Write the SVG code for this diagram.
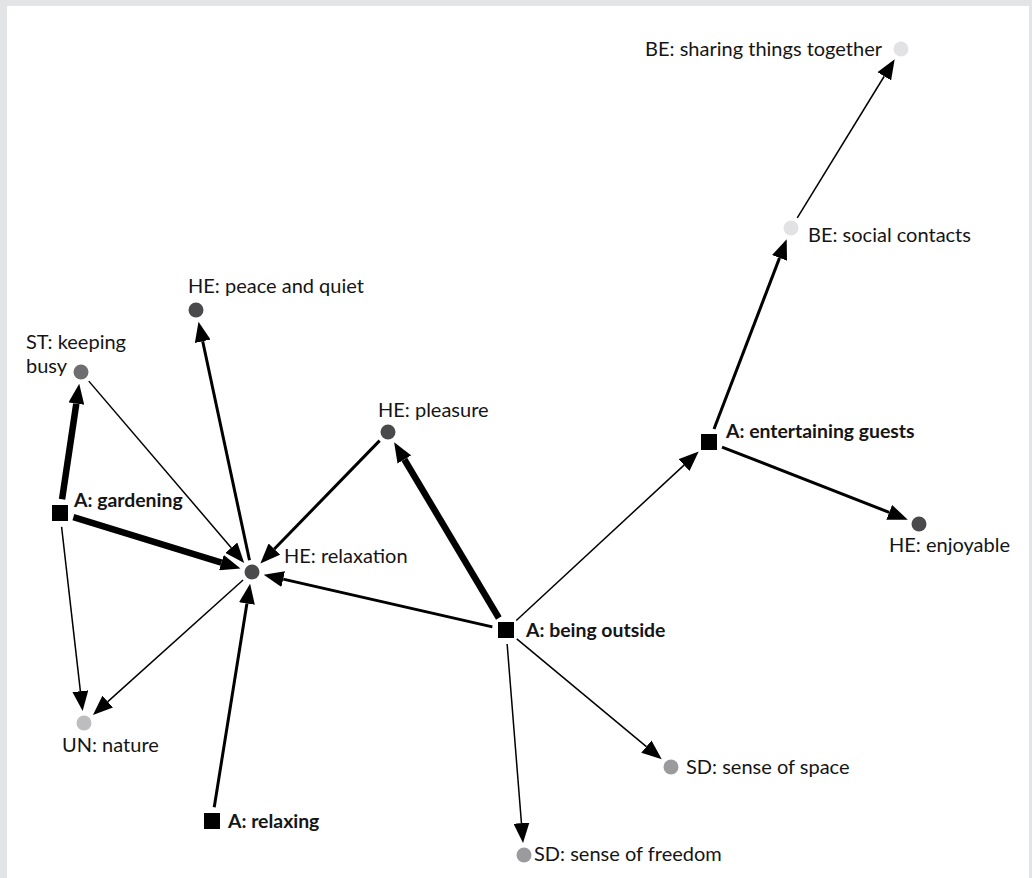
<svg xmlns="http://www.w3.org/2000/svg" width="1032" height="878" viewBox="0 0 1032 878">
  <defs>
    <style>
      .lbl { font-family: Lato, "Open Sans", "Liberation Sans", sans-serif; font-size: 20px; fill: #151515; }
      .act { font-weight: bold; font-size: 19.4px; }
      .edge { fill: none; stroke: #000; stroke-linecap: butt; marker-end: url(#head); }
      .w1 { stroke-width: 1.5; }
      .w3 { stroke-width: 3; }
      .w6 { stroke-width: 6.5; }
      .sq { fill: #000; }
      .dark { fill: #4a4a4c; }
      .mid { fill: #6e6e70; }
      .grey { fill: #9b9b9d; }
      .light { fill: #bdbdbf; }
      .pale { fill: #e2e2e4; }
    </style>
    <marker id="head" markerUnits="userSpaceOnUse" viewBox="0 0 20 16" markerWidth="20" markerHeight="16" refX="0" refY="8" orient="auto">
      <path d="M0,0 L20,8 L0,16 z" fill="#000"/>
    </marker>
  </defs>

  <!-- page frame -->
  <rect x="0" y="0" width="1032" height="878" fill="#e3e4e6"/>
  <rect x="7" y="6" width="1022" height="872" fill="#fff"/>

  <!-- connectors: each path ends at the base of its arrowhead -->
  <g id="connectors">
    <path class="edge w6" d="M62.06,499.15 L76.29,403.65"/>
    <path class="edge w6" d="M73.38,517.11 L221.41,562.60"/>
    <path class="edge w1" d="M61.59,526.91 L80.37,691.21"/>
    <path class="edge w1" d="M88.80,381.12 L231.21,547.68"/>
    <path class="edge w3" d="M249.49,560.27 L202.69,341.29"/>
    <path class="edge w3" d="M379.64,440.61 L274.30,549.05"/>
    <path class="edge w6" d="M498.83,617.97 L404.38,459.49"/>
    <path class="edge w3" d="M492.35,626.88 L283.20,579.12"/>
    <path class="edge w1" d="M243.08,580.02 L107.80,701.61"/>
    <path class="edge w3" d="M214.22,807.18 L246.92,603.60"/>
    <path class="edge w1" d="M516.27,620.49 L684.05,465.10"/>
    <path class="edge w3" d="M714.01,428.93 L779.55,257.88"/>
    <path class="edge w1" d="M797.28,217.78 L884.24,76.26"/>
    <path class="edge w3" d="M722.04,447.09 L889.19,512.36"/>
    <path class="edge w1" d="M516.77,638.94 L646.38,746.56"/>
    <path class="edge w1" d="M507.12,643.96 L521.45,823.10"/>
  </g>

  <!-- nodes -->
  <g id="be-sharing">
    <circle class="pale" cx="901" cy="49" r="7.5"/>
    <text class="lbl" x="882" y="56" text-anchor="end">BE: sharing things together</text>
  </g>
  <g id="be-social">
    <circle class="pale" cx="791" cy="228" r="7.5"/>
    <text class="lbl" x="808" y="242">BE: social contacts</text>
  </g>
  <g id="he-peace">
    <circle class="dark" cx="196" cy="310" r="7.5"/>
    <text class="lbl" x="188" y="293">HE: peace and quiet</text>
  </g>
  <g id="st-busy">
    <circle class="mid" cx="81" cy="372" r="7.5"/>
    <text class="lbl" x="26" y="349">ST: keeping<tspan x="26" y="373">busy</tspan></text>
  </g>
  <g id="he-pleasure">
    <circle class="dark" cx="388" cy="432" r="7.5"/>
    <text class="lbl" x="378" y="417">HE: pleasure</text>
  </g>
  <g id="a-entertaining">
    <rect class="sq" x="701" y="434" width="16" height="16"/>
    <text class="lbl act" x="726" y="438">A: entertaining guests</text>
  </g>
  <g id="a-gardening">
    <rect class="sq" x="52" y="505" width="16" height="16"/>
    <text class="lbl act" x="74" y="507">A: gardening</text>
  </g>
  <g id="he-enjoyable">
    <circle class="dark" cx="919" cy="524" r="7.5"/>
    <text class="lbl" x="889" y="552">HE: enjoyable</text>
  </g>
  <g id="he-relaxation">
    <circle class="dark" cx="252" cy="572" r="7.5"/>
    <text class="lbl" x="284" y="563">HE: relaxation</text>
  </g>
  <g id="a-outside">
    <rect class="sq" x="498" y="622" width="16" height="16"/>
    <text class="lbl act" x="526" y="637">A: being outside</text>
  </g>
  <g id="un-nature">
    <circle class="light" cx="84" cy="723" r="7.5"/>
    <text class="lbl" x="62" y="752">UN: nature</text>
  </g>
  <g id="sd-space">
    <circle class="grey" cx="671" cy="767" r="7.5"/>
    <text class="lbl" x="686" y="774">SD: sense of space</text>
  </g>
  <g id="a-relaxing">
    <rect class="sq" x="204" y="813" width="16" height="16"/>
    <text class="lbl act" x="228" y="828">A: relaxing</text>
  </g>
  <g id="sd-freedom">
    <circle class="grey" cx="524" cy="855" r="7.5"/>
    <text class="lbl" x="534" y="861">SD: sense of freedom</text>
  </g>
</svg>
